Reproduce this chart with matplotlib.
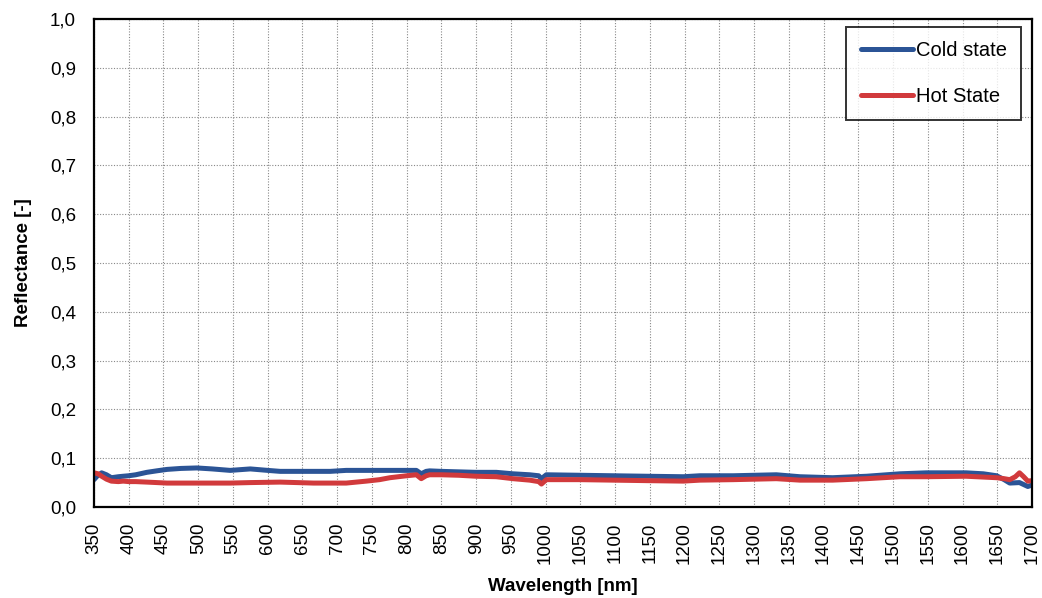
import matplotlib
matplotlib.use("Agg")
import matplotlib.pyplot as plt
from matplotlib.ticker import FuncFormatter, MultipleLocator

plt.rcParams['font.family'] = ['Liberation Sans', 'DejaVu Sans']

wl_cold = [350, 355, 361, 368, 375, 385, 392, 400, 410, 426, 440, 455, 475, 498, 520, 546, 575, 600, 618, 640, 666, 690, 713, 742, 761, 780, 800, 814, 821, 828, 833, 850, 875, 900, 929, 953, 977, 990, 994, 1001, 1049, 1097, 1145, 1198, 1222, 1270, 1332, 1366, 1413, 1462, 1510, 1548, 1605, 1630, 1649, 1660, 1668, 1682, 1694, 1700]
cold = [0.056, 0.064, 0.070, 0.066, 0.060, 0.062, 0.063, 0.064, 0.066, 0.071, 0.074, 0.077, 0.079, 0.080, 0.078, 0.075, 0.078, 0.075, 0.073, 0.073, 0.073, 0.073, 0.075, 0.075, 0.075, 0.075, 0.075, 0.075, 0.068, 0.073, 0.074, 0.073, 0.072, 0.071, 0.071, 0.068, 0.066, 0.064, 0.058, 0.066, 0.065, 0.064, 0.063, 0.062, 0.064, 0.064, 0.066, 0.062, 0.060, 0.063, 0.068, 0.070, 0.070, 0.068, 0.064, 0.056, 0.049, 0.050, 0.042, 0.045]

wl_hot = [350, 356, 361, 368, 375, 385, 392, 400, 410, 426, 455, 498, 546, 575, 618, 666, 713, 742, 761, 776, 800, 814, 821, 828, 833, 850, 875, 900, 929, 953, 977, 990, 994, 1001, 1049, 1097, 1145, 1198, 1222, 1270, 1332, 1366, 1413, 1462, 1510, 1548, 1605, 1649, 1660, 1668, 1676, 1682, 1688, 1694, 1700]
hot = [0.070, 0.068, 0.063, 0.057, 0.053, 0.052, 0.053, 0.052, 0.052, 0.051, 0.049, 0.049, 0.049, 0.050, 0.051, 0.049, 0.049, 0.053, 0.056, 0.060, 0.064, 0.066, 0.058, 0.064, 0.066, 0.066, 0.065, 0.063, 0.062, 0.058, 0.055, 0.052, 0.047, 0.056, 0.056, 0.055, 0.054, 0.053, 0.055, 0.056, 0.058, 0.055, 0.055, 0.058, 0.062, 0.062, 0.063, 0.060, 0.058, 0.056, 0.062, 0.070, 0.062, 0.053, 0.054]

fig = plt.figure(figsize=(10.42, 5.98), dpi=100)
ax = fig.add_axes([0.0902, 0.1522, 0.9002, 0.8160])

ax.plot(wl_cold, cold, color='#2B5496', lw=3.6, label='Cold state', solid_capstyle='round')
ax.plot(wl_hot, hot, color='#D13A3C', lw=3.6, label='Hot State', solid_capstyle='round')

ax.set_xlim(350, 1700)
ax.set_ylim(0, 1.0)
ax.xaxis.set_major_locator(MultipleLocator(50))
ax.yaxis.set_major_locator(MultipleLocator(0.1))
ax.yaxis.set_major_formatter(FuncFormatter(lambda v, p: f"{v:.1f}".replace('.', ',')))
ax.tick_params(axis='x', labelrotation=90, labelsize=13.5, length=0, pad=11)
ax.tick_params(axis='y', labelsize=13.5, length=0, pad=13)
ax.grid(True, linestyle=(0, (1, 1.5)), color='#888888', linewidth=0.8)
ax.set_axisbelow(True)
for s in ax.spines.values():
    s.set_linewidth(1.6)
    s.set_color('black')

ax.set_xlabel('Wavelength [nm]', fontsize=13.5, fontweight='bold')
ax.set_ylabel('Reflectance [-]', fontsize=13.5, fontweight='bold')
ax.xaxis.set_label_coords(0.5, -0.145)
ax.yaxis.set_label_coords(-0.066, 0.5)

leg = ax.legend(loc='upper right', fontsize=14.5, frameon=True, fancybox=False,
                edgecolor='black', handlelength=2.6, handletextpad=0.15,
                labelspacing=1.35, borderpad=0.7, borderaxespad=0,
                bbox_to_anchor=(0.9883, 0.9836))
leg.get_frame().set_linewidth(1.4)

fig.savefig('out.png', dpi=100)
